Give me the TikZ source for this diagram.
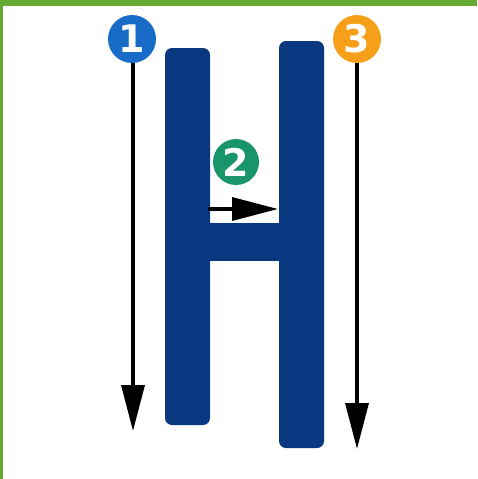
\documentclass[tikz,border=0pt]{standalone}
\usepackage{fontspec}
\usepackage{tikz}
\usetikzlibrary{arrows.meta}

\newfontfamily\digitfont{DejaVu Sans}

\definecolor{hnavy}{RGB}{10,56,128}
\definecolor{onebl}{RGB}{24,108,200}
\definecolor{twogr}{RGB}{24,150,106}
\definecolor{threeor}{RGB}{246,160,26}
\definecolor{frameg}{RGB}{102,170,51}

\begin{document}
\begin{tikzpicture}[
  x=1pt, y=-1pt,
  numc/.style={circle, inner sep=0pt, minimum size=48pt, text=white,
    font=\digitfont\bfseries\fontsize{38}{38}\selectfont},
  stem/.style={fill=hnavy, rounded corners=7pt},
  strokearrow/.style={draw=black, line width=3.5pt,
    -{Triangle[length=46pt,width=23pt]}}
]
\useasboundingbox (0,0) rectangle (477,479);

% frame
\fill[frameg] (0,0) rectangle (477,6);
\fill[frameg] (0,0) rectangle (3,479);

% the letter H
\fill[stem] (165,48) rectangle (210,425);
\fill[stem] (279,41) rectangle (324,448);
\fill[hnavy] (205,223) rectangle (284,261);

\node[numc, fill=onebl] (n1) at (132,39) {1};
\node[numc, fill=twogr, minimum size=46pt] (n2) at (236,162) {2};
\node[numc, fill=threeor] (n3) at (357,39) {3};

\coordinate (e1) at (133,431);
\coordinate (s2) at (208,209);
\coordinate (e2) at (278,209);
\coordinate (e3) at (357,449);

\draw[strokearrow] (n1.south -| e1) -- (e1);
\draw[strokearrow] (s2) -- (e2);
\draw[strokearrow] (n3.south -| e3) -- (e3);

\end{tikzpicture}
\end{document}
